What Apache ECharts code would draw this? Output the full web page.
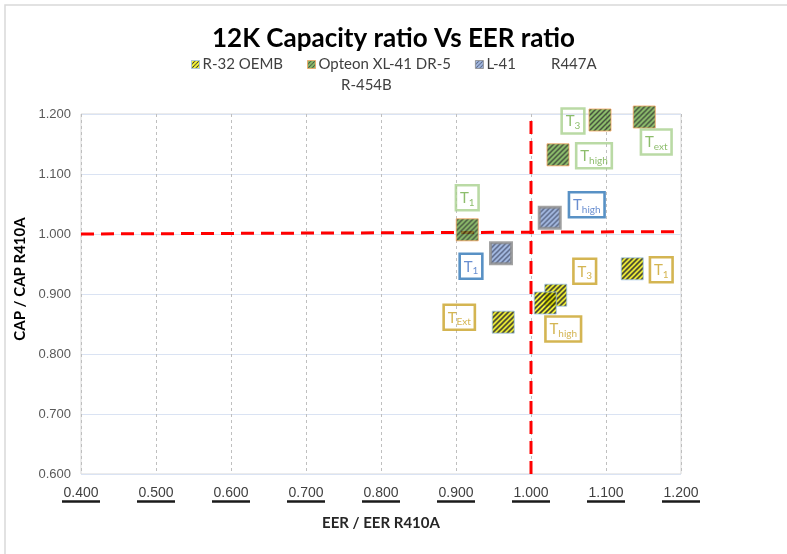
<!doctype html>
<html>
<head>
<meta charset="utf-8">
<title>12K Capacity ratio Vs EER ratio</title>
<script src="https://cdn.jsdelivr.net/npm/echarts@6/dist/echarts.min.js"></script>
<style>
  html, body { margin: 0; padding: 0; background: #fff; }
  #main { width: 787px; height: 554px; }
</style>
</head>
<body>
<div id="main"></div>
<script>
// EER ratio, CAP ratio and label subscript for each point
var r32Eer = [0.963, 1.033, 1.019, 1.135];
var r32Cap = [0.853, 0.898, 0.885, 0.942];
var r32Sub = ['Ext', '3', 'high', '1'];

var xl41Eer = [0.915, 1.092, 1.151, 1.036];
var xl41Cap = [1.007, 1.190, 1.195, 1.132];
var xl41Sub = ['1', '3', 'ext', 'high'];

var l41Eer = [0.960, 1.025];
var l41Cap = [0.968, 1.027];
var l41Sub = ['1', 'high'];

// reference lines (R410A = 1)
var hLine = [[0.4, 1.000], [1.2, 1.004]];
var vLine = [[1.0, 0.6], [1.0, 1.2]];

var xTicks = { min: 0.4, max: 1.2, step: 0.1 };
var yTicks = { min: 0.6, max: 1.2, step: 0.1 };

// where each label box sits relative to its marker
var r32LabelOff = [[-44, -5], [29, -24], [18, 26], [29, 1]];
var xl41LabelOff = [[0, -32], [-27, 1], [12, 25], [36, 1]];
var l41LabelOff = [[-30, 13], [37, -13]];

var SYM = 22;

// diagonal stripes; symbols are drawn scaled by size/2, so undo that
function hatch(bg, fg, w, scale) {
  var c = document.createElement('canvas');
  c.width = 5; c.height = 5;
  var g = c.getContext('2d');
  g.fillStyle = bg;
  g.fillRect(0, 0, 5, 5);
  g.strokeStyle = fg;
  g.lineWidth = w;
  g.beginPath();
  g.moveTo(-1, 6); g.lineTo(6, -1);
  g.moveTo(-3.5, 3.5); g.lineTo(3.5, -3.5);
  g.moveTo(1.5, 8.5); g.lineTo(8.5, 1.5);
  g.stroke();
  return { image: c, repeat: 'repeat', scaleX: scale, scaleY: scale };
}

var font = 'Lato, "Open Sans", sans-serif';

function makePoints(eer, cap, sub, off, border, txt) {
  var out = [];
  for (var i = 0; i < eer.length; i++) {
    out.push({
      value: [eer[i], cap[i]],
      label: {
        show: true,
        position: 'inside',
        offset: off[i],
        formatter: '{t|T}{s|' + sub[i] + '}',
        borderColor: border,
        borderWidth: 1.3,
        padding: [3, 4, 2, 4],
        backgroundColor: 'rgba(255,255,255,0.01)',
        rich: {
          t: { fontFamily: font, fontSize: 15, color: txt, lineHeight: 20 },
          s: { fontFamily: font, fontSize: 10, color: txt, lineHeight: 20, padding: [9, 0, 0, 0] }
        }
      }
    });
  }
  return out;
}

var styles = {
  r32: { bg: '#ffff00', fg: '#000', w: 1.6, border: '#9dc3e6', bw: 1 },
  xl41: { bg: '#70ad47', fg: '#1a2a10', w: 1.5, border: '#f4a460', bw: 1 },
  l41: { bg: '#8faadc', fg: '#2f3f66', w: 1.5, border: '#8c8c8c', bw: 3 }
};

function itemStyle(s, size) {
  return { color: hatch(s.bg, s.fg, s.w, 2 / size), borderColor: s.border, borderWidth: s.bw };
}
function legendStyle(s) {
  return { color: hatch(s.bg, s.fg, 1.2, 0.8), borderColor: s.border, borderWidth: 1 };
}

var legendText = { fontFamily: font, fontSize: 15, color: '#404040', padding: [0, 0, 0, -2] };

var myChart = echarts.init(document.getElementById('main'));

var option = {
  animation: false,
  backgroundColor: '#fff',
  title: {
    text: '12K Capacity ratio Vs EER ratio',
    left: 'center',
    top: 21,
    textStyle: { fontFamily: font, fontSize: 26, fontWeight: 'bold', color: '#000' }
  },
  legend: [{
    data: [
      { name: 'R-32 OEMB', itemStyle: legendStyle(styles.r32) },
      { name: 'Opteon XL-41 DR-5', itemStyle: legendStyle(styles.xl41) },
      { name: 'L-41', itemStyle: legendStyle(styles.l41) },
      'R447A'
    ],
    left: 186,
    top: 52,
    itemWidth: 8,
    itemHeight: 8,
    itemGap: 24,
    icon: 'rect',
    textStyle: legendText
  }, {
    data: ['R-454B'],
    left: 325,
    top: 73,
    itemWidth: 8,
    itemHeight: 8,
    icon: 'rect',
    textStyle: legendText
  }],
  graphic: [{
    type: 'polyline',
    shape: { points: [[5, 554], [5, 5], [787, 5]] },
    style: { stroke: '#d9d9d9', fill: null, lineWidth: 1.5 },
    silent: true
  }],
  grid: {
    left: 81,
    right: 106,
    top: 114,
    bottom: 80,
    show: true,
    borderColor: '#d9d9d9',
    borderWidth: 1
  },
  xAxis: {
    type: 'value',
    min: xTicks.min,
    max: xTicks.max,
    interval: xTicks.step,
    name: 'EER / EER R410A',
    nameLocation: 'middle',
    nameGap: 42,
    nameTextStyle: { fontFamily: font, fontSize: 15, fontWeight: 'bold', color: '#262626' },
    axisLine: { show: false },
    axisTick: { show: false },
    splitLine: { show: true, lineStyle: { color: '#bfbfbf', type: [3, 3], width: 1 } },
    axisLabel: {
      margin: 12,
      formatter: function (v) { return '{v|' + v.toFixed(3) + '}\n{u| }'; },
      rich: {
        v: { fontFamily: '"Liberation Sans", Arial, sans-serif', fontSize: 14, color: '#404040', lineHeight: 14 },
        u: { width: 38, height: 2.5, backgroundColor: '#1a1a1a', lineHeight: 3 }
      }
    }
  },
  yAxis: {
    type: 'value',
    min: yTicks.min,
    max: yTicks.max,
    interval: yTicks.step,
    name: 'CAP / CAP R410A',
    nameLocation: 'middle',
    nameGap: 44,
    nameTextStyle: { fontFamily: font, fontSize: 15, fontWeight: 'bold', color: '#000', padding: [0, 0, 0, 30] },
    axisLine: { show: false },
    axisTick: { show: false },
    splitLine: { show: true, lineStyle: { color: '#dae3f3', width: 1 } },
    axisLabel: {
      margin: 10,
      fontFamily: '"Liberation Sans", Arial, sans-serif',
      fontSize: 13,
      color: '#595959',
      formatter: function (v) { return v.toFixed(3); }
    }
  },
  series: [{
    name: 'R-32 OEMB',
    type: 'scatter',
    symbol: 'rect',
    symbolSize: SYM,
    z: 3,
    itemStyle: itemStyle(styles.r32, SYM),
    data: makePoints(r32Eer, r32Cap, r32Sub, r32LabelOff, '#c9a227', '#c9a227')
  }, {
    name: 'Opteon XL-41 DR-5',
    type: 'scatter',
    symbol: 'rect',
    symbolSize: SYM,
    z: 3,
    itemStyle: itemStyle(styles.xl41, SYM),
    data: makePoints(xl41Eer, xl41Cap, xl41Sub, xl41LabelOff, '#a9d18e', '#70ad47')
  }, {
    name: 'L-41',
    type: 'scatter',
    symbol: 'rect',
    symbolSize: SYM - 1,
    z: 3,
    itemStyle: itemStyle(styles.l41, SYM - 1),
    data: makePoints(l41Eer, l41Cap, l41Sub, l41LabelOff, '#2e75b6', '#4472c4')
  }, {
    name: 'R447A',
    type: 'scatter',
    itemStyle: { color: 'rgba(0,0,0,0)' },
    data: []
  }, {
    name: 'R-454B',
    type: 'scatter',
    itemStyle: { color: 'rgba(0,0,0,0)' },
    data: []
  }, {
    name: 'ref-h',
    type: 'line',
    symbol: 'none',
    z: 2,
    lineStyle: { color: '#ff0000', width: 3, type: [13, 7] },
    data: hLine
  }, {
    name: 'ref-v',
    type: 'line',
    symbol: 'none',
    z: 2,
    lineStyle: { color: '#ff0000', width: 3, type: [13, 7] },
    data: vLine
  }]
};

myChart.setOption(option);
</script>
</body>
</html>
